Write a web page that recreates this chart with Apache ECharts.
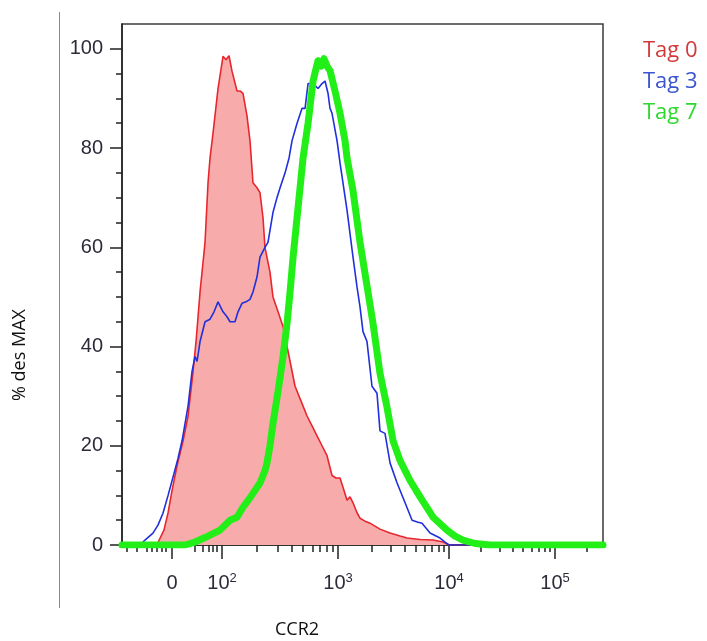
<!DOCTYPE html>
<html>
<head>
<meta charset="utf-8">
<script src="https://cdn.jsdelivr.net/npm/echarts@6/dist/echarts.min.js"></script>
<style>
  html, body { margin: 0; padding: 0; background: #fff; }
  #histEcharts { width: 707px; height: 641px; }
</style>
</head>
<body>
<div id="histEcharts"></div>
<script>
// x is in display units of the biexponential CCR2 axis (1 unit ~ 1 decade, 10^2 = 2)
const tag0X = [1.099,1.351,1.423,1.477,1.514,1.550,1.595,1.649,1.694,1.739,1.766,1.784,1.802,1.847,1.874,1.892,1.919,1.964,2.009,2.036,2.063,2.090,2.135,2.162,2.189,2.225,2.252,2.279,2.315,2.342,2.369,2.387,2.432,2.459,2.505,2.550,2.595,2.658,2.712,2.766,2.811,2.856,2.901,2.946,2.991,3.027,3.063,3.099,3.126,3.153,3.180,3.216,3.243,3.288,3.333,3.423,3.514,3.604,3.667,3.784,3.901,3.991,4.045,5.432]
const tag0Y = [0,0,0.5,3,6.5,11,16,21,26,35,41,46,51,61,73,78,83,92,98.5,97.8,98.6,95.5,91.5,91.5,91,86.5,81.5,73,72,71,66,60,55,50,47,44,39,32,29,26,24,22,20,18,14,13.5,13.5,11,9,9.7,8.5,6.5,5.4,4.8,4.4,3.2,2.4,1.8,1.4,1.1,1.0,0.6,0,0]

const tag3X = [1.099,1.261,1.306,1.378,1.423,1.468,1.514,1.559,1.604,1.640,1.694,1.730,1.757,1.775,1.802,1.847,1.892,1.928,1.964,2.009,2.045,2.072,2.117,2.144,2.180,2.216,2.252,2.279,2.315,2.342,2.387,2.414,2.459,2.495,2.523,2.568,2.604,2.631,2.676,2.721,2.748,2.775,2.820,2.865,2.901,2.928,2.955,2.973,2.991,3.036,3.063,3.126,3.180,3.216,3.243,3.270,3.306,3.351,3.396,3.423,3.468,3.514,3.577,3.649,3.712,3.766,3.802,3.874,3.964,4.009,4.045,5.432]
const tag3Y = [0,0,1,2.4,4,6.4,10,13.7,17.5,21,28,35,38,37,41,45,45.5,47,49,47,46,45,45,47,48.7,49,49.5,51,54,58,60,61,67,70,72,75,78,81.5,85,88,88,93,93,92,93,93.5,91,88,87,81.5,77,67.5,58,52,48,43,41,32,30.6,23,22.5,16.5,12.5,8.5,5,4.6,4.4,2.4,1.4,0.6,0,0]

const tag7X = [1.099,1.667,1.757,1.847,1.937,1.982,2.072,2.135,2.189,2.252,2.297,2.342,2.387,2.405,2.432,2.459,2.505,2.550,2.586,2.613,2.640,2.685,2.730,2.775,2.820,2.847,2.865,2.892,2.919,2.946,2.973,3.018,3.063,3.108,3.126,3.180,3.243,3.315,3.360,3.423,3.486,3.541,3.604,3.694,3.784,3.901,4.027,4.099,4.171,4.279,4.414,5.432]
const tag7Y = [0,0,0.6,1.5,2.5,3,5,5.6,7.6,9.5,11,12.5,15,16.5,20,24.5,31,38,44.7,51,58,68,78,85,93.5,96,97.6,96.5,98,96.5,95.6,91.5,87,81.5,78,71.4,61,51,44.7,34.6,27.8,21,17,13,9.7,5.6,3,1.8,1,0.3,0,0]

const seriesNames = ['Tag 0', 'Tag 3', 'Tag 7']
const yTicks = [0, 20, 40, 60, 80, 100]
const xTickValues = [1.55, 2, 3.045, 4.045, 5]
const xTickLabels = ['0', '10^2', '10^3', '10^4', '10^5']
// minor ticks around zero (linear part of the biexponential scale)
const xLinearTicks = [1.144,1.234,1.324,1.369,1.414,1.459,1.495,1.757,1.829,1.883,1.919,1.955]

function pairs(xs, ys) {
  return xs.map((x, i) => [x, ys[i]])
}

let minorX = xLinearTicks.slice()
let decades = [2, 3.045, 4.045, 5, 5.95]
for (let d = 0; d < decades.length - 1; d++) {
  for (let k = 2; k <= 9; k++) {
    let p = decades[d] + Math.log10(k) * (decades[d + 1] - decades[d])
    if (p < 5.432) minorX.push(+p.toFixed(3))
  }
}
let minorY = []
for (let v = 5; v < 105; v += 5) {
  if (v % 20 !== 0) minorY.push(v)
}

const font = 'Liberation Sans, Arial, sans-serif'
const textColor = '#2b2b3a'

let option = {
  animation: false,
  grid: {
    left: 122,
    top: 24,
    right: 104,
    bottom: 96,
    show: true,
    borderColor: '#3a3a3a',
    borderWidth: 1.5,
    outerBoundsMode: 'none'
  },
  legend: {
    orient: 'vertical',
    left: 633,
    top: 35,
    icon: 'none',
    itemWidth: 0,
    itemGap: 9,
    selectedMode: false,
    textStyle: { fontSize: 22, fontFamily: 'Open Sans' },
    data: [
      { name: 'Tag 0', textStyle: { color: '#d23a3a' } },
      { name: 'Tag 3', textStyle: { color: '#3a55cf' } },
      { name: 'Tag 7', textStyle: { color: '#2ed82e' } }
    ]
  },
  xAxis: [
    {
      type: 'value',
      min: 1.099,
      max: 5.432,
      splitLine: { show: false },
      axisLine: { lineStyle: { color: '#222', width: 1.5 } },
      axisTick: { customValues: xTickValues, length: 14, lineStyle: { color: '#222', width: 1.5 } },
      axisLabel: {
        customValues: xTickValues,
        margin: 27,
        color: textColor,
        fontSize: 20,
        fontFamily: font,
        formatter: function (value) {
          let i = xTickValues.findIndex(v => Math.abs(v - value) < 0.001)
          if (i < 0) return ''
          let parts = xTickLabels[i].split('^')
          return parts.length > 1 ? '{b|' + parts[0] + '}{s|' + parts[1] + '}' : '{b|' + parts[0] + '}'
        },
        rich: {
          b: { fontSize: 20, color: textColor, fontFamily: font, lineHeight: 22 },
          s: { fontSize: 13, color: textColor, fontFamily: font, verticalAlign: 'top', lineHeight: 22 }
        }
      }
    },
    {
      type: 'value',
      position: 'bottom',
      min: 1.099,
      max: 5.432,
      splitLine: { show: false },
      axisLine: { show: false },
      axisLabel: { show: false },
      axisTick: { customValues: minorX, length: 7, lineStyle: { color: '#222', width: 1.5 } }
    }
  ],
  yAxis: [
    {
      type: 'value',
      min: 0,
      max: 105,
      splitLine: { show: false },
      axisLine: { show: true, lineStyle: { color: '#222', width: 1.5 } },
      axisTick: { show: true, customValues: yTicks, length: 12, lineStyle: { color: '#222', width: 1.5 } },
      axisLabel: { customValues: yTicks, margin: 19, color: textColor, fontSize: 20, fontFamily: font }
    },
    {
      type: 'value',
      position: 'left',
      min: 0,
      max: 105,
      splitLine: { show: false },
      axisLine: { show: false },
      axisLabel: { show: false },
      axisTick: { show: true, customValues: minorY, length: 6, lineStyle: { color: '#222', width: 1.5 } }
    }
  ],
  series: [
    {
      name: seriesNames[0],
      type: 'line',
      showSymbol: false,
      color: '#e8262e',
      lineStyle: { color: '#e8262e', width: 1.6 },
      areaStyle: { color: '#f8abab', opacity: 1 },
      z: 2,
      data: pairs(tag0X, tag0Y)
    },
    {
      name: seriesNames[1],
      type: 'line',
      showSymbol: false,
      color: '#2030dc',
      lineStyle: { color: '#2030dc', width: 1.6 },
      z: 3,
      data: pairs(tag3X, tag3Y)
    },
    {
      name: seriesNames[2],
      type: 'line',
      showSymbol: false,
      color: '#22ee18',
      lineStyle: { color: '#22ee18', width: 7, join: 'round', cap: 'round' },
      z: 4,
      data: pairs(tag7X, tag7Y)
    }
  ],
  graphic: [
    {
      type: 'line',
      shape: { x1: 59.5, y1: 12, x2: 59.5, y2: 608 },
      style: { stroke: '#8a8a8a', lineWidth: 1 }
    },
    {
      type: 'text',
      x: 20,
      y: 355,
      rotation: Math.PI / 2,
      style: { text: '% des MAX', fontSize: 18, fontFamily: 'Open Sans', fill: '#111', align: 'center', verticalAlign: 'middle' }
    },
    {
      type: 'text',
      x: 297,
      y: 630,
      style: { text: 'CCR2', fontSize: 18, fontFamily: 'Open Sans', fill: '#111', align: 'center', verticalAlign: 'middle' }
    }
  ]
}

let chart = echarts.init(document.getElementById('histEcharts'))
chart.setOption(option)
</script>
</body>
</html>
